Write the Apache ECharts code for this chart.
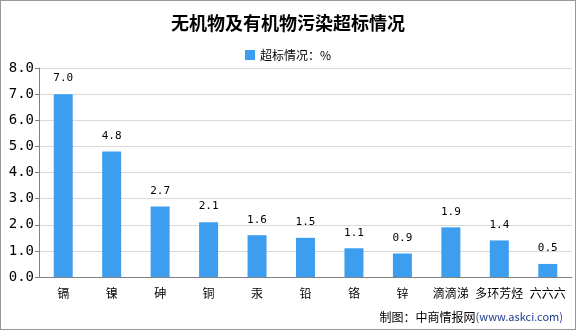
<!DOCTYPE html>
<html><head><meta charset="utf-8">
<script src="https://cdn.jsdelivr.net/npm/echarts@6/dist/echarts.min.js"></script>
<style>html,body{margin:0;padding:0;background:#fff}#c{width:576px;height:330px;box-sizing:border-box;border:1px solid #999}</style>
</head><body><div id="c"></div>
<script>
const categories = ['镉','镍','砷','铜','汞','铅','铬','锌','滴滴涕','多环芳烃','六六六'];
const values = [7.0, 4.8, 2.7, 2.1, 1.6, 1.5, 1.1, 0.9, 1.9, 1.4, 0.5];
const seriesName = '超标情况：%';
const chart = echarts.init(document.getElementById('c'));
chart.setOption({
  animation: false,
  title: {text: '无机物及有机物污染超标情况', left: 'center', top: 8,
    textStyle: {fontSize: 18, fontWeight: 'bold', color: '#000', fontFamily: 'Noto Sans CJK SC'}},
  legend: {data: [seriesName], top: 43, left: 'center', itemWidth: 10, itemHeight: 10, icon: 'rect',
    textStyle: {fontSize: 12, color: '#000', fontFamily: 'Noto Sans CJK SC'}},
  grid: {left: 38, right: 3, top: 67, bottom: 52, containLabel: false},
  xAxis: {type: 'category', data: categories,
    axisLine: {lineStyle: {color: '#808080'}}, axisTick: {lineStyle: {color: '#808080'}, length: 5},
    axisLabel: {color: '#000', fontSize: 12, margin: 10, interval: 0, fontFamily: 'Noto Sans CJK SC'}},
  yAxis: {type: 'value', min: 0, max: 8, interval: 1,
    axisLine: {show: true, lineStyle: {color: '#808080'}}, axisTick: {show: true, length: 4, lineStyle: {color: '#808080'}},
    splitLine: {lineStyle: {color: '#d9d9d9'}},
    axisLabel: {color: '#000', fontSize: 14, margin: 5, formatter: v => v.toFixed(1), fontFamily: 'DejaVu Sans Mono'}},
  series: [{name: seriesName, type: 'bar', data: values, barWidth: 19,
    itemStyle: {color: '#3d9ef0'},
    label: {show: true, position: 'top', distance: 10, color: '#000', fontSize: 11, formatter: p => p.value.toFixed(1), fontFamily: 'DejaVu Sans Mono'}}],
  graphic: [{type: 'text', right: 12, bottom: 6, style: {
    rich: {a: {fontSize: 12, fill: '#000', fontFamily: 'Noto Sans CJK SC'}, b: {fontSize: 11, fill: '#1f3a8a', fontFamily: 'Noto Sans CJK SC'}},
    text: '{a|制图：中商情报网}{b|(www.askci.com)}'}}]
});
</script></body></html>
